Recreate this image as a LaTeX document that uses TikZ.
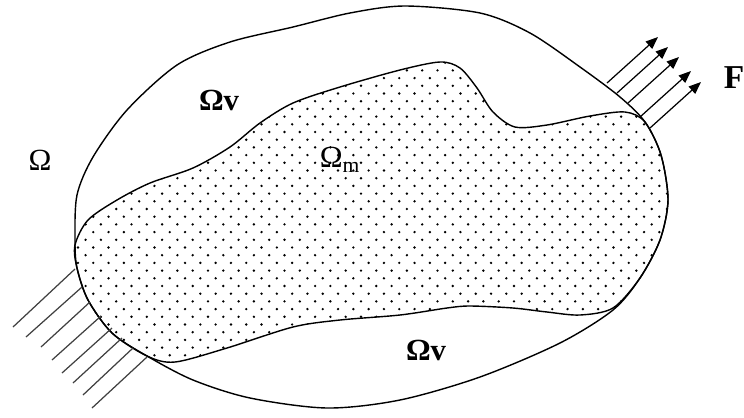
\documentclass[tikz,border=0pt]{standalone}
\usepackage{fontspec}
\setmainfont{Liberation Serif}
\usetikzlibrary{arrows.meta}

\begin{document}
\begin{tikzpicture}[
    x=0.02cm, y=-0.02cm,
    font=\fontsize{17.5}{20}\selectfont,
    rim/.style={line width=0.8pt},
    flux/.style={line width=0.7pt, black!75},
    force/.style={line width=0.7pt, -{Triangle[length=7pt, width=5.5pt]}},
    lbl/.style={inner sep=0pt}
]
  \useasboundingbox (0,0) rectangle (744,417);

  % dotted inner region
  \draw[rim, path picture={
      \foreach \r in {0,...,42}
        \foreach \c in {0,...,41}
          \fill ({55+15.3*\c+7.65*mod(\r,2)}, {55+7.7*\r}) circle (0.75pt);
    }] plot[smooth cycle] coordinates {
      (75,245) (88,220) (117,200) (150,183) (193,168) (230,147) (260,123)
      (293,103) (340,87) (400,70) (440,62) (460,68) (477,88) (493,112)
      (515,127) (547,125) (590,116) (625,112) (645,122) (661,155) (668,200)
      (660,240) (640,278) (613,308) (580,315) (547,312) (513,308) (470,306)
      (447,308) (400,315) (340,320) (293,327) (227,348) (175,362) (147,356)
      (112,333) (88,300) (77,268)};

  % outer boundary
  \draw[rim] plot[smooth cycle] coordinates {
      (75,240) (77,195) (93,157) (127,110) (177,65) (230,42) (293,27)
      (350,13) (405,6) (480,13) (530,33) (580,67) (620,97) (645,122)
      (661,155) (668,200) (660,240) (640,278) (613,310) (560,343) (480,377)
      (400,400) (327,408) (250,398) (193,380) (147,356) (112,333) (88,300)
      (77,268)};

  % incoming lines
  \foreach \xa/\ya/\xb/\yb in {75/269/13/327, 82/287/26/337, 90/302/41/347,
      101/316/52/360, 112/328/62/373, 122/338/73/383, 133/348/83/395,
      147/357/92/408}
    \draw[flux] (\xa,\ya) -- (\xb,\yb);

  % outgoing force
  \foreach \xa/\ya in {607/83, 617/93, 628/103, 640/117, 650/128}
    \draw[force] (\xa,\ya) -- ++(51,-46);

  \node[lbl] (omega) at (40,160) {Ω};
  \node[lbl] (vtop) at (219,100) {\textbf{Ωv}};
  \node[lbl] (vbot) at (426,350) {\textbf{Ωv}};
  \node[lbl] (mid) at (340,160) {Ω\textsubscript{m}};
  \node[lbl, font=\fontsize{19}{21}\selectfont] (force) at (734,78) {\textbf{F}};
\end{tikzpicture}
\end{document}
